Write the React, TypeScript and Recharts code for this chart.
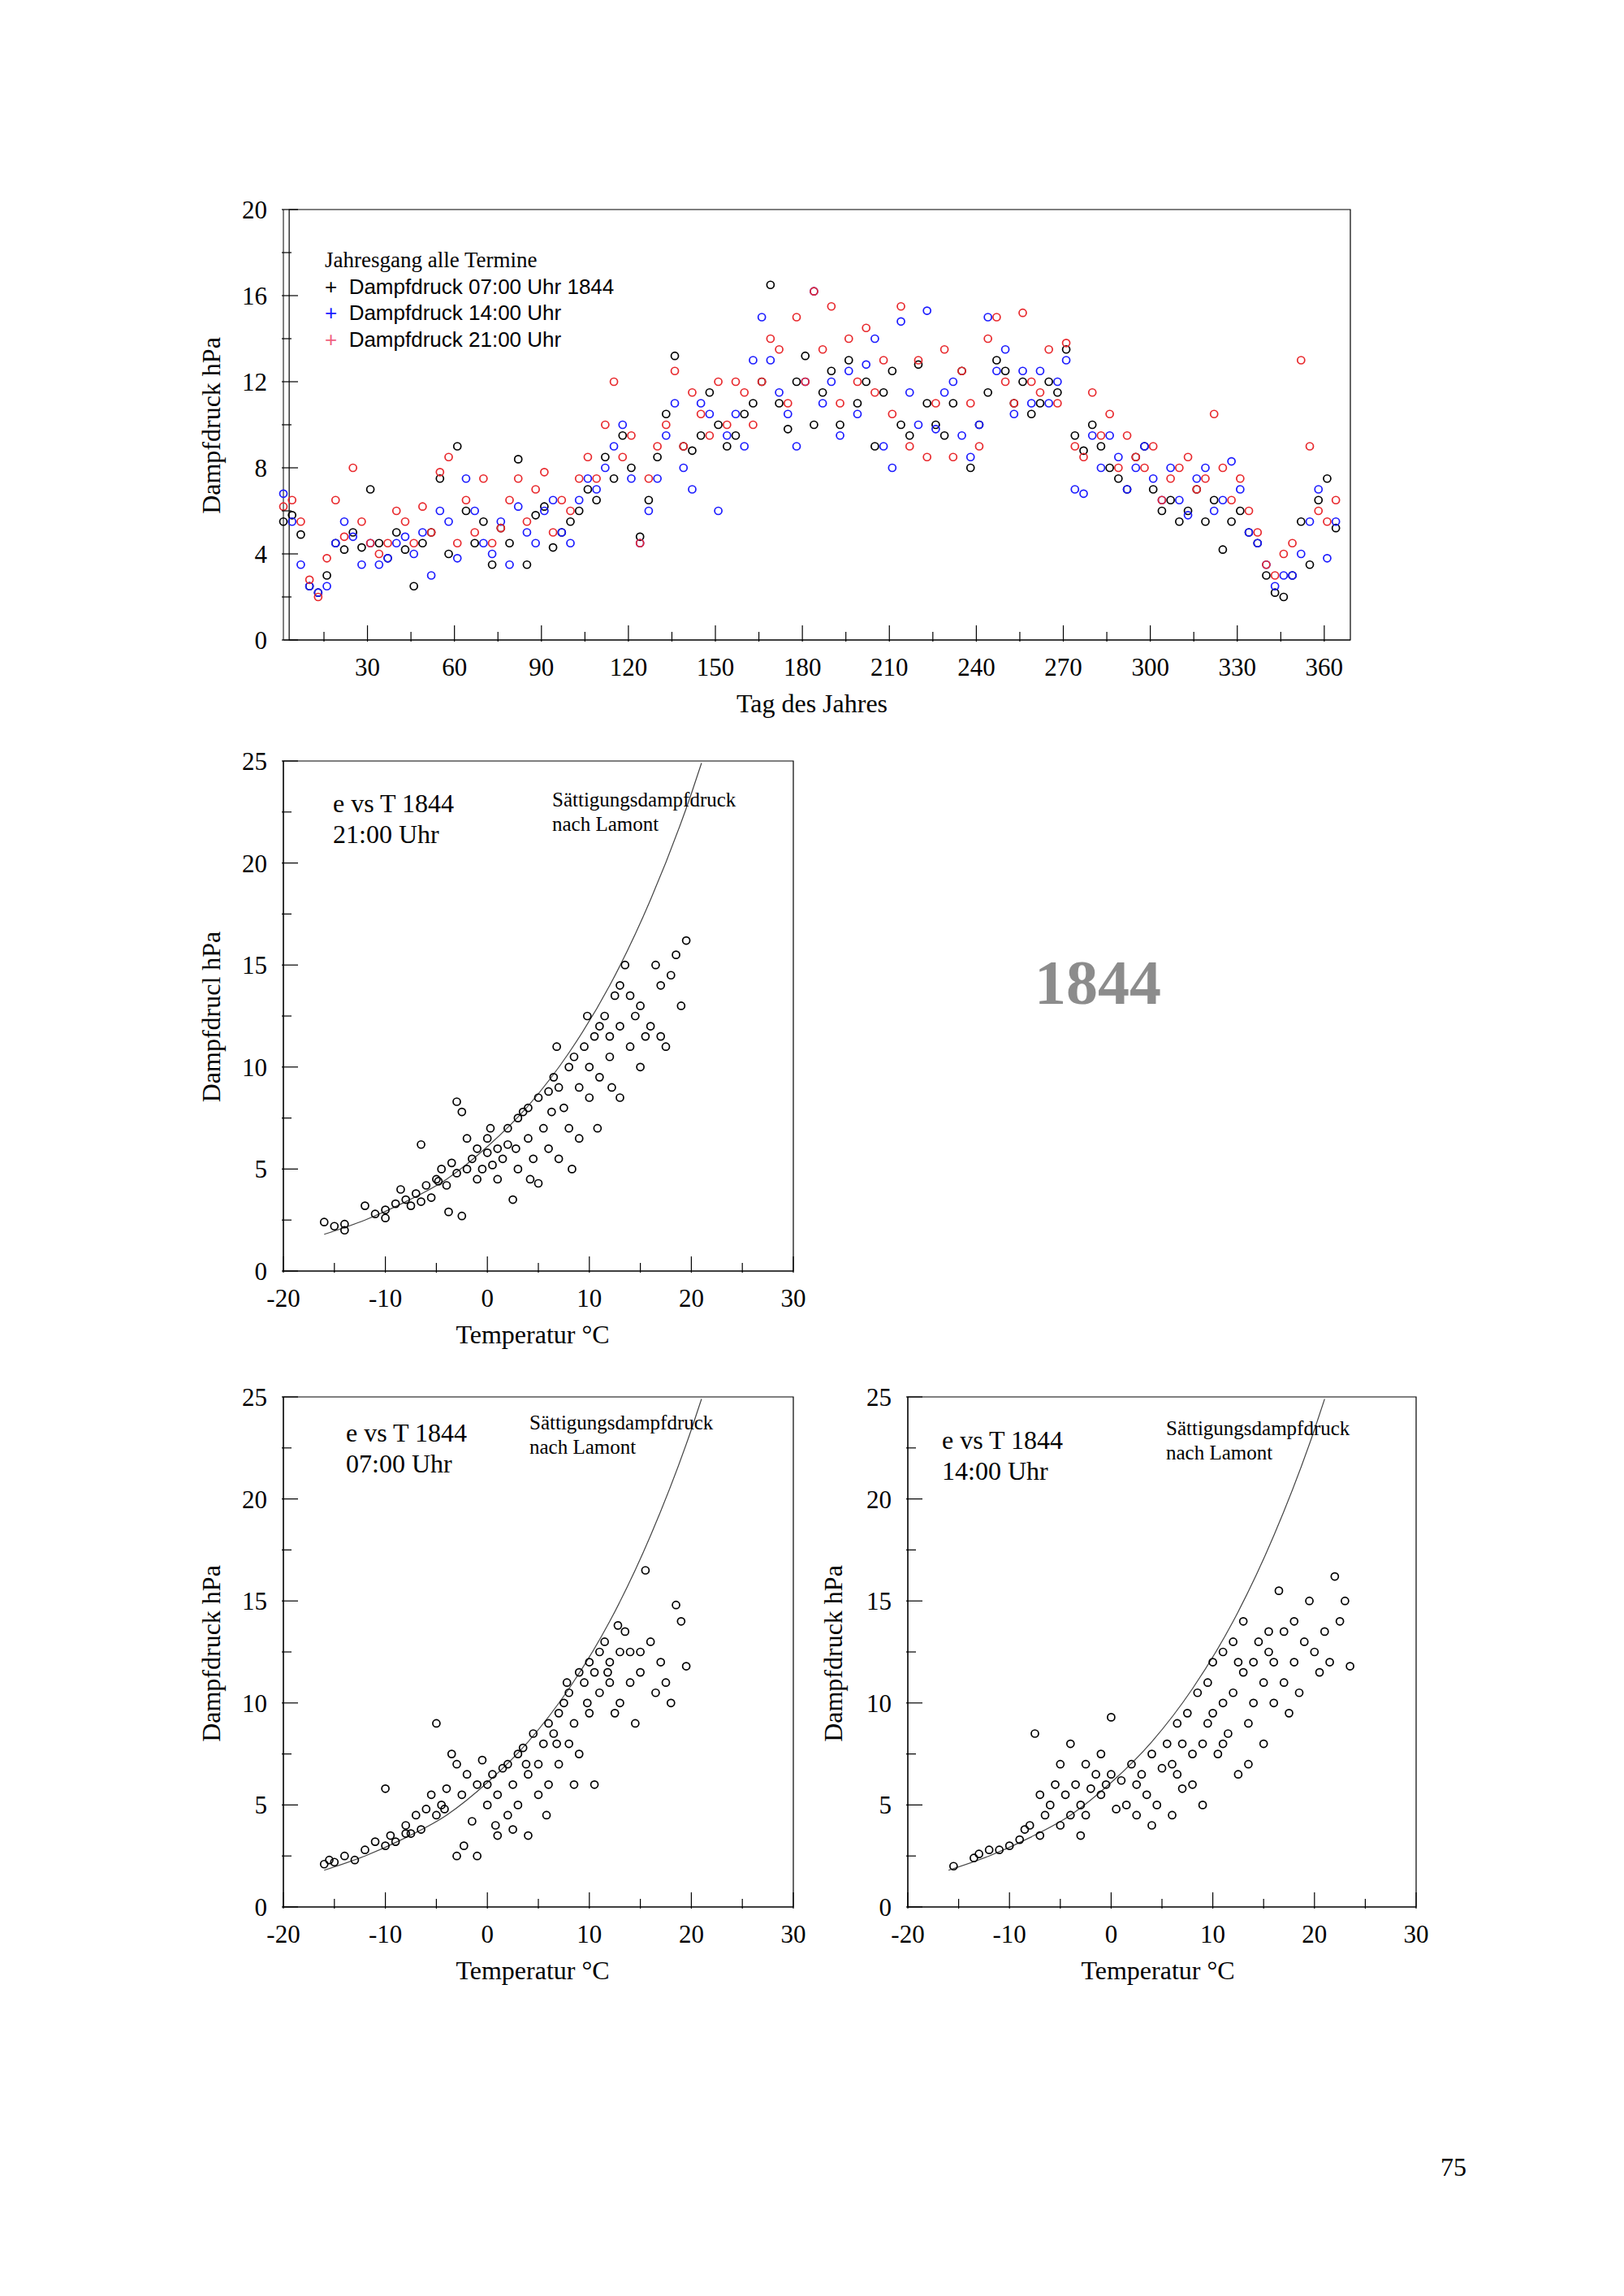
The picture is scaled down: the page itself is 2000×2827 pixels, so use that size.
import React from "react";
import { ScatterChart, Scatter, XAxis, YAxis, ReferenceArea } from "recharts";

const FONT = "'Liberation Serif', 'DejaVu Serif', serif";
const NARROW = "'Liberation Sans Narrow', 'Liberation Sans', sans-serif";

// Dampfdruck every 3rd day (day 1, 4, 7, ... 364)
const dampf07 = [
  5.5, 5.8, 4.9, 2.5, 2.2, 3.0, 4.5, 4.2, 5.0, 4.3, 7.0,
  4.5, 3.8, 5.0, 4.2, 2.5, 4.5, 5.0, 7.5, 4.0, 9.0, 6.0,
  4.5, 5.5, 3.5, 5.2, 4.5, 8.4, 3.5, 5.8, 6.2, 4.3, 5.0,
  5.5, 6.0, 7.0, 6.5, 8.5, 7.5, 9.5, 8.0, 4.8, 6.5, 8.5,
  10.5, 13.2, 9.0, 8.8, 9.5, 11.5, 10.0, 9.0, 9.5, 10.5, 11.0,
  12.0, 16.5, 11.0, 9.8, 12.0, 13.2, 10.0, 11.5, 12.5, 10.0, 13.0,
  11.0, 12.0, 9.0, 11.5, 12.5, 10.0, 9.5, 12.8, 11.0, 10.0, 9.5,
  11.0, 12.5, 8.0, 10.0, 11.5, 13.0, 12.5, 11.0, 12.0, 10.5, 11.0,
  12.0, 11.5, 13.5, 9.5, 8.8, 10.0, 9.0, 8.0, 7.5, 7.0, 8.5,
  9.0, 7.0, 6.0, 6.5, 5.5, 6.0, 7.0, 5.5, 6.5, 4.2, 5.5,
  6.0, 5.0, 4.5, 3.0, 2.2, 2.0, 3.0, 5.5, 3.5, 6.5, 7.5,
  5.2,
];
const dampf14 = [
  6.8, 5.5, 3.5, 2.5, 2.2, 2.5, 4.5, 5.5, 4.8, 3.5, 4.5,
  3.5, 3.8, 4.5, 4.8, 4.0, 5.0, 3.0, 6.0, 5.5, 3.8, 7.5,
  6.0, 4.5, 4.0, 5.5, 3.5, 6.2, 5.0, 4.5, 6.0, 6.5, 5.0,
  4.5, 6.5, 7.5, 7.0, 8.0, 9.0, 10.0, 7.5, 4.5, 6.0, 7.5,
  9.5, 11.0, 8.0, 7.0, 11.0, 10.5, 6.0, 9.5, 10.5, 9.0, 13.0,
  15.0, 13.0, 11.5, 10.5, 9.0, 12.0, 16.2, 11.0, 12.0, 9.5, 12.5,
  10.5, 12.8, 14.0, 9.0, 8.0, 14.8, 11.5, 10.0, 15.3, 9.8, 11.5,
  12.0, 9.5, 8.5, 10.0, 15.0, 12.5, 13.5, 10.5, 12.5, 11.0, 12.5,
  11.0, 12.0, 13.0, 7.0, 6.8, 9.5, 8.0, 9.5, 8.5, 7.0, 8.0,
  9.0, 7.5, 6.5, 8.0, 6.5, 5.8, 7.5, 8.0, 6.0, 6.5, 8.3,
  7.0, 5.0, 4.5, 3.5, 2.5, 3.0, 3.0, 4.0, 5.5, 7.0, 3.8,
  5.5,
];
const dampf21 = [
  6.2, 6.5, 5.5, 2.8, 2.0, 3.8, 6.5, 4.8, 8.0, 5.5, 4.5,
  4.0, 4.5, 6.0, 5.5, 4.5, 6.2, 5.0, 7.8, 8.5, 4.5, 6.5,
  5.0, 7.5, 4.5, 5.2, 6.5, 7.5, 5.5, 7.0, 7.8, 5.0, 6.5,
  6.0, 7.5, 8.5, 7.5, 10.0, 12.0, 8.5, 9.5, 4.5, 7.5, 9.0,
  10.0, 12.5, 9.0, 11.5, 10.5, 9.5, 12.0, 10.0, 12.0, 11.5, 10.0,
  12.0, 14.0, 13.5, 11.0, 15.0, 12.0, 16.2, 13.5, 15.5, 11.0, 14.0,
  12.0, 14.5, 11.5, 13.0, 10.5, 15.5, 9.0, 13.0, 8.5, 11.0, 13.5,
  8.5, 12.5, 11.0, 9.0, 14.0, 15.0, 12.0, 11.0, 15.2, 12.0, 11.5,
  13.5, 11.0, 13.8, 9.0, 8.5, 11.5, 9.5, 10.5, 8.0, 9.5, 8.5,
  8.0, 9.0, 6.5, 7.5, 8.0, 8.5, 7.0, 7.5, 10.5, 8.0, 6.5,
  7.5, 6.0, 5.0, 3.5, 3.0, 4.0, 4.5, 13.0, 9.0, 6.0, 5.5,
  6.5,
];

const dayTicks = [15, 30, 45, 60, 75, 90, 105, 120, 135, 150, 165, 180, 195, 210, 225, 240, 255, 270, 285, 300, 315, 330, 345, 360];
const dampfTicks = [0, 2, 4, 6, 8, 10, 12, 14, 16, 18, 20];
const tempTicks = [-20, -15, -10, -5, 0, 5, 10, 15, 20, 25, 30];
const eTicks = [0, 2.5, 5, 7.5, 10, 12.5, 15, 17.5, 20, 22.5, 25];

// Sättigungsdampfdruck nach Lamont [T, e]
const lamont: [number, number][] = [
  [-16, 1.8], [-12, 2.5], [-8, 3.4], [-4, 4.5], [0, 6.1], [4, 8.1],
  [8, 10.7], [12, 14.0], [16, 18.2], [20, 23.4], [21, 24.9],
];

const evsT21: [number, number][] = [
  [-16, 2.4], [-15, 2.2], [-14, 2.3], [-14, 2.0], [-12, 3.2], [-11, 2.8], [-10, 3.0], [-10, 2.6], [-9, 3.3], [-8, 3.5],
  [-7.5, 3.2], [-7, 3.8], [-6.5, 3.4], [-6, 4.2], [-5.5, 3.6], [-5, 4.5], [-4.5, 5.0], [-4, 4.2], [-3.5, 5.3], [-3, 4.8],
  [-3, 8.3], [-2.5, 7.8], [-2.5, 2.7], [-2, 6.5], [-1.5, 5.5], [-1, 4.5], [-1, 6.0], [-0.5, 5.0], [0, 5.8], [0, 6.5],
  [0.5, 5.2], [1, 6.0], [1, 4.5], [1.5, 5.5], [2, 7.0], [2, 6.2], [2.5, 3.5], [3, 7.5], [3, 5.0], [3.5, 7.8],
  [4, 6.5], [4, 8.0], [4.5, 5.5], [5, 8.5], [5, 4.3], [5.5, 7.0], [6, 8.8], [6, 6.0], [6.5, 9.5], [7, 5.5],
  [7, 9.0], [7.5, 8.0], [8, 10.0], [8, 7.0], [8.5, 10.5], [9, 9.0], [9, 6.5], [9.5, 11.0], [10, 10.0], [10, 8.5],
  [10.5, 11.5], [11, 12.0], [11, 9.5], [11.5, 12.5], [12, 11.5], [12, 10.5], [12.5, 13.5], [13, 12.0], [13, 14.0], [13.5, 15.0],
  [14, 13.5], [14, 11.0], [14.5, 12.5], [15, 13.0], [15, 10.0], [15.5, 11.5], [16, 12.0], [16.5, 15.0], [17, 14.0], [17.5, 11.0],
  [18, 14.5], [18.5, 15.5], [19, 13.0], [19.5, 16.2], [-2, 5.0], [-3.8, 2.9], [-6.5, 6.2], [0.3, 7.0], [2.8, 6.0], [6.8, 11.0],
  [9.8, 12.5], [12.2, 9.0], [10.8, 7.0], [8.3, 5.0], [6.3, 7.8], [4.2, 4.5], [13.0, 8.5], [17, 11.5], [-8.5, 4.0], [-4.8, 4.4],
];

const evsT07: [number, number][] = [
  [-16, 2.1], [-15.5, 2.3], [-15, 2.2], [-14, 2.5], [-13, 2.3], [-12, 2.8], [-11, 3.2], [-10, 3.0], [-10, 5.8], [-9.5, 3.5],
  [-9, 3.2], [-8, 4.0], [-7.5, 3.6], [-7, 4.5], [-6.5, 3.8], [-6, 4.8], [-5.5, 5.5], [-5, 9.0], [-5, 4.5], [-4.5, 5.0],
  [-4, 5.8], [-3.5, 7.5], [-3, 7.0], [-3, 2.5], [-2.5, 5.5], [-2, 6.5], [-1.5, 4.2], [-1, 2.5], [-1, 6.0], [0, 6.0],
  [0, 5.0], [0.5, 6.5], [1, 5.5], [1, 3.5], [1.5, 6.8], [2, 7.0], [2, 4.5], [2.5, 6.0], [3, 7.5], [3, 5.0],
  [3.5, 7.8], [4, 6.5], [4, 3.5], [4.5, 8.5], [5, 7.0], [5, 5.5], [5.5, 8.0], [6, 9.0], [6, 6.0], [6.5, 8.5],
  [7, 9.5], [7, 7.0], [7.5, 10.0], [8, 10.5], [8, 8.0], [8.5, 9.0], [9, 11.5], [9, 7.5], [9.5, 11.0], [10, 12.0],
  [10, 9.5], [10.5, 6.0], [10.5, 11.5], [11, 12.5], [11, 10.5], [11.5, 13.0], [12, 12.0], [12, 11.0], [12.5, 9.5], [13, 12.5],
  [13, 10.0], [13.5, 13.5], [14, 12.5], [14, 11.0], [14.5, 9.0], [15, 11.5], [15.5, 16.5], [16, 13.0], [16.5, 10.5], [17, 12.0],
  [17.5, 11.0], [18, 10.0], [18.5, 14.8], [19, 14.0], [19.5, 11.8], [-2.3, 3.0], [0.8, 4.0], [2.5, 3.8], [5.8, 4.5], [8.5, 6.0],
  [-8, 3.6], [-4.2, 4.8], [3.8, 7.0], [6.8, 8.0], [9.8, 10.0], [11.8, 11.5], [7.8, 11.0], [-0.5, 7.2], [15, 12.5], [12.8, 13.8],
];

const evsT14: [number, number][] = [
  [-15.5, 2.0], [-13.5, 2.4], [-13, 2.6], [-12, 2.8], [-11, 2.8], [-10, 3.0], [-9, 3.3], [-8.5, 3.8], [-8, 4.0], [-7.5, 8.5],
  [-7, 3.5], [-7, 5.5], [-6.5, 4.5], [-6, 5.0], [-5.5, 6.0], [-5, 4.0], [-5, 7.0], [-4.5, 5.5], [-4, 8.0], [-4, 4.5],
  [-3.5, 6.0], [-3, 5.0], [-2.5, 7.0], [-2.5, 4.5], [-2, 5.8], [-1.5, 6.5], [-1, 5.5], [-1, 7.5], [-0.5, 6.0], [0, 9.3],
  [0, 6.5], [0.5, 4.8], [1, 6.2], [1.5, 5.0], [2, 7.0], [2.5, 4.5], [3, 6.5], [3.5, 5.5], [4, 7.5], [4.5, 5.0],
  [5, 6.8], [5.5, 8.0], [6, 7.0], [6, 4.5], [6.5, 9.0], [7, 8.0], [7, 5.8], [7.5, 9.5], [8, 7.5], [8.5, 10.5],
  [9, 8.0], [9, 5.0], [9.5, 11.0], [10, 9.5], [10, 12.0], [10.5, 7.5], [11, 12.5], [11, 10.0], [11.5, 8.5], [12, 13.0],
  [12, 10.5], [12.5, 6.5], [13, 11.5], [13, 14.0], [13.5, 9.0], [14, 12.0], [14, 10.0], [14.5, 13.0], [15, 11.0], [15, 8.0],
  [15.5, 13.5], [16, 12.0], [16, 10.0], [16.5, 15.5], [17, 13.5], [17, 11.0], [17.5, 9.5], [18, 14.0], [18, 12.0], [18.5, 10.5],
  [19, 13.0], [19.5, 15.0], [20, 12.5], [20.5, 11.5], [21, 13.5], [21.5, 12.0], [22, 16.2], [22.5, 14.0], [23, 15.0], [23.5, 11.8],
  [-3, 3.5], [2.5, 6.0], [4, 4.0], [8, 6.0], [11, 8.0], [13.5, 7.0], [15.5, 12.5], [12.5, 12.0], [9.5, 9.0], [6.5, 6.5],
];

const toDays = (vals: number[]) => vals.map((v, i) => ({ x: 1 + i * 3, y: v }));
const toPts = (pts: [number, number][]) => pts.map(([x, y]) => ({ x, y }));

const ring = (color: string) => (p: any) =>
  p.cx == null ? null : <circle cx={p.cx} cy={p.cy} r={4.5} fill="none" stroke={color} strokeWidth={1.7} />;

const XTick = (labelEvery: number) => (p: any) => {
  const v = p.payload.value;
  const major = v % labelEvery === 0;
  return (
    <g>
      <line x1={p.x} x2={p.x} y1={p.y} y2={p.y - (major ? 20 : 12)} stroke="#000" strokeWidth={1.2} />
      {major && (
        <text x={p.x} y={p.y + 42} textAnchor="middle" fontFamily={FONT} fontSize={31} fill="#000">{v}</text>
      )}
    </g>
  );
};

const YTick = (labelEvery: number) => (p: any) => {
  const v = p.payload.value;
  const major = v % labelEvery === 0;
  return (
    <g>
      <line x1={p.x} x2={p.x + (major ? 20 : 12)} y1={p.y} y2={p.y} stroke="#000" strokeWidth={1.2} />
      {major && (
        <text x={p.x - 18} y={p.y + 11} textAnchor="end" fontFamily={FONT} fontSize={31} fill="#000">{v}</text>
      )}
    </g>
  );
};

const Txt = ({ x, y, size, children, rotate, bold, color, family, left }: any) => (
  <div
    style={{
      position: "absolute",
      left: x,
      top: y,
      transform: left ? "translate(0,-50%)" : `translate(-50%,-50%)${rotate ? " rotate(-90deg)" : ""}`,
      fontFamily: family || FONT,
      fontSize: size,
      fontWeight: bold ? "bold" : "normal",
      color: color || "#000",
      whiteSpace: "nowrap",
      lineHeight: 1,
    }}
  >
    {children}
  </div>
);

function EvsT({ left, top, width, data, hour, title, sat }: any) {
  return (
    <>
      <div style={{ position: "absolute", left, top }}>
        <ScatterChart width={width} height={752} margin={{ top: 20, right: 20, left: 0, bottom: 44 }}>
          <XAxis type="number" dataKey="x" domain={[-20, 30]} ticks={tempTicks} tick={XTick(10)} tickLine={false} tickSize={0} height={60} axisLine={{ stroke: "#000" }} interval={0} />
          <YAxis type="number" dataKey="y" domain={[0, 25]} ticks={eTicks} tick={YTick(5)} tickLine={false} tickSize={0} width={120} axisLine={{ stroke: "#000" }} interval={0} />
          <ReferenceArea x1={-20} x2={30} y1={0} y2={25} fill="none" stroke="#000" strokeWidth={1.2} />
          <Scatter data={toPts(lamont)} line={{ stroke: "#444", strokeWidth: 1.2 }} lineJointType="monotoneX" shape={() => null} isAnimationActive={false} />
          <Scatter data={toPts(data)} shape={ring("#000")} isAnimationActive={false} />
        </ScatterChart>
      </div>
      <Txt x={title[0]} y={title[1]} size={32} left>e vs T 1844</Txt>
      <Txt x={title[0]} y={title[1] + 38} size={32} left>{hour}</Txt>
      <Txt x={sat[0]} y={sat[1]} size={25} left>Sättigungsdampfdruck</Txt>
      <Txt x={sat[0]} y={sat[1] + 30} size={25} left>nach Lamont</Txt>
    </>
  );
}

export default function App() {
  return (
    <div style={{ position: "absolute", left: 0, top: 0, width: 2000, height: 2827, background: "#fff" }}>
      <div style={{ position: "absolute", left: 229, top: 238 }}>
        <ScatterChart width={1454} height={654} margin={{ top: 20, right: 20, left: 0, bottom: 44 }}>
          <XAxis type="number" dataKey="x" domain={[3, 369]} ticks={dayTicks} tick={XTick(30)} tickLine={false} tickSize={0} height={60} axisLine={{ stroke: "#000" }} interval={0} />
          <YAxis type="number" dataKey="y" domain={[0, 20]} ticks={dampfTicks} tick={YTick(4)} tickLine={false} tickSize={0} width={120} axisLine={{ stroke: "#000" }} interval={0} />
          <ReferenceArea x1={3} x2={369} y1={0} y2={20} fill="none" stroke="#000" strokeWidth={1.2} />
          <Scatter data={toDays(dampf07)} shape={ring("#000")} isAnimationActive={false} />
          <Scatter data={toDays(dampf14)} shape={ring("#1a1aff")} isAnimationActive={false} />
          <Scatter data={toDays(dampf21)} shape={ring("#e8282c")} isAnimationActive={false} />
        </ScatterChart>
      </div>
      <Txt x={400} y={320} size={27} left>Jahresgang alle Termine</Txt>
      <Txt x={400} y={353} size={26} left family={NARROW}>+&nbsp; Dampfdruck 07:00 Uhr 1844</Txt>
      <Txt x={400} y={385} size={26} left family={NARROW}><span style={{ color: "#1a1aff" }}>+</span>&nbsp; Dampfdruck 14:00 Uhr</Txt>
      <Txt x={400} y={418} size={26} left family={NARROW}><span style={{ color: "#f06080" }}>+</span>&nbsp; Dampfdruck 21:00 Uhr</Txt>
      <Txt x={1000} y={866} size={32}>Tag des Jahres</Txt>
      <Txt x={260} y={524} size={32} rotate>Dampfdruck hPa</Txt>

      <EvsT left={229} top={917} width={768} data={evsT21} hour="21:00 Uhr" title={[410, 989]} sat={[680, 984]} />
      <Txt x={260} y={1252} size={32} rotate>Dampfdrucl hPa</Txt>
      <Txt x={656} y={1643} size={32}>Temperatur °C</Txt>

      <Txt x={1352} y={1210} size={78} bold color="#8c8c8c">1844</Txt>

      <EvsT left={229} top={1700} width={768} data={evsT07} hour="07:00 Uhr" title={[426, 1764]} sat={[652, 1751]} />
      <Txt x={260} y={2036} size={32} rotate>Dampfdruck hPa</Txt>
      <Txt x={656} y={2426} size={32}>Temperatur °C</Txt>

      <Txt x={1776} y={2036} size={0}>{""}</Txt>
      <EvsT left={998} top={1700} width={766} data={evsT14} hour="14:00 Uhr" title={[1160, 1773]} sat={[1436, 1758]} />
      <Txt x={1026} y={2036} size={32} rotate>Dampfdruck hPa</Txt>
      <Txt x={1426} y={2426} size={32}>Temperatur °C</Txt>

      <Txt x={1790} y={2668} size={32}>75</Txt>
    </div>
  );
}
